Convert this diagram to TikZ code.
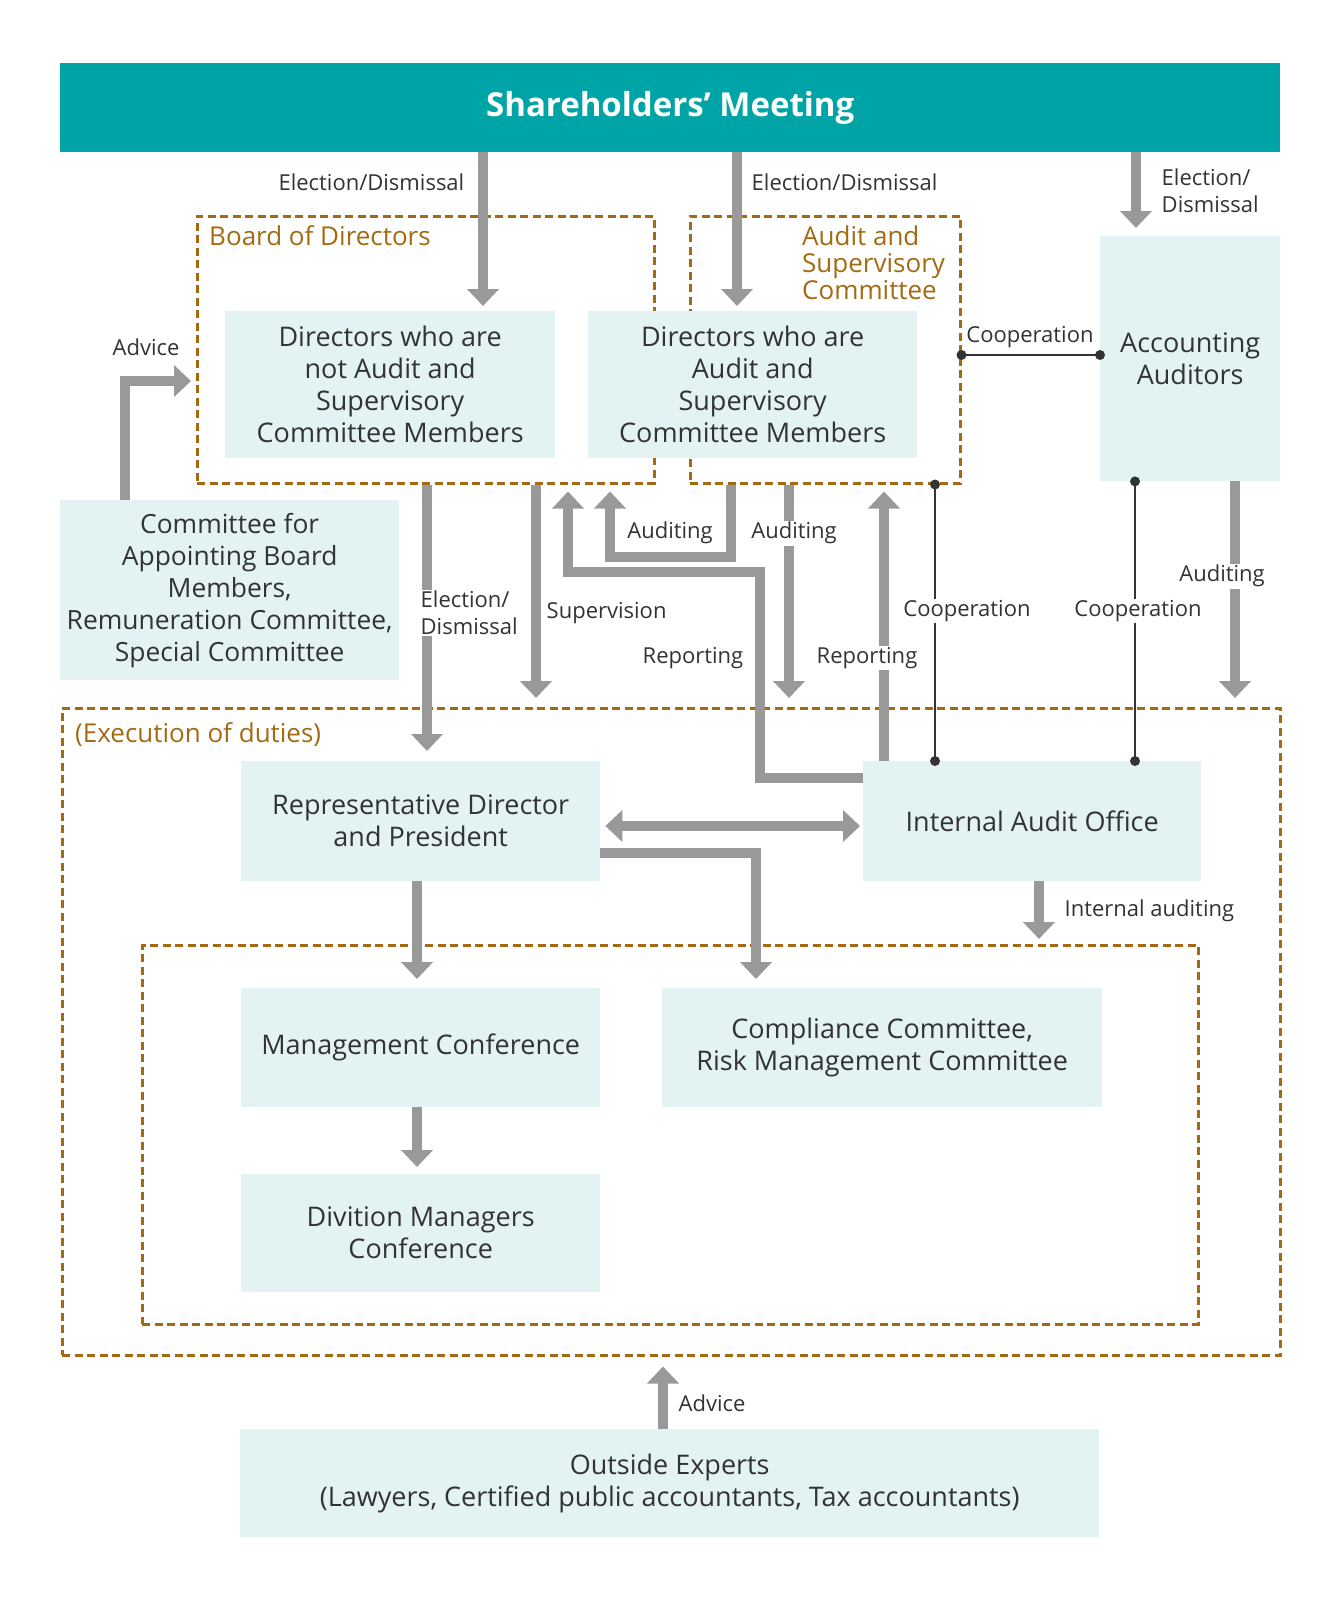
\documentclass[tikz,border=0pt]{standalone}
\usepackage{fontspec}
\setmainfont{Open Sans}
\usetikzlibrary{arrows.meta,positioning,calc}
\definecolor{shc}{HTML}{00A4A6}
\definecolor{boxc}{HTML}{E3F2F3}
\definecolor{arrc}{HTML}{999999}
\definecolor{brownc}{HTML}{A36A12}
\definecolor{inkc}{HTML}{333333}
\newcommand{\boxfont}{\fontsize{27}{32}\selectfont}
\newcommand{\labfont}{\fontsize{22}{27}\selectfont}
\newcommand{\ttlfont}{\fontsize{26}{27}\selectfont}

\begin{document}
\begin{tikzpicture}[
  x=1pt, y=-1pt,
  box/.style={fill=boxc, inner sep=0pt, align=center, text=inkc, font=\boxfont, anchor=north west},
  dbox/.style={draw=brownc, line width=2.5pt, dash pattern=on 8pt off 4.5pt, inner sep=0pt, anchor=north west},
  garr/.style={draw=arrc, line width=10pt, line join=miter, -{Triangle[length=17pt,width=31pt]}},
  garrb/.style={draw=arrc, line width=10pt, {Triangle[length=17pt,width=31pt]}-{Triangle[length=17pt,width=31pt]}},
  lab/.style={text=inkc, font=\labfont, inner sep=1.5pt, fill=white},
  ttl/.style={text=brownc, font=\ttlfont, inner sep=0pt, align=left},
  coop/.style={draw=inkc, line width=2.2pt},
  dot/.style={circle, fill=inkc, inner sep=0pt, minimum size=10pt},
]
\useasboundingbox (0,0) rectangle (1340,1600);
% dashed frames
\node[dbox, minimum width=457, minimum height=267] (bod) at (196,215) {};
\node[dbox, minimum width=270, minimum height=267] (asc) at (689,215) {};
\node[dbox, minimum width=1218, minimum height=647] (exe) at (61,707) {};
\node[dbox, minimum width=1056, minimum height=379] (inr) at (141,944) {};
% boxes
\node[box, fill=shc, text=white, font=\fontsize{33}{38}\selectfont\bfseries, minimum width=1220, minimum height=89] (sh) at (60,63) {Shareholders’ Meeting};
\node[box, minimum width=330, minimum height=147] (dnot) at (225,311) {Directors who are\\not Audit and\\Supervisory\\Committee Members};
\node[box, minimum width=329, minimum height=147] (daud) at (588,311) {Directors who are\\Audit and\\Supervisory\\Committee Members};
\node[box, minimum width=180, minimum height=245] (acc) at (1100,236) {Accounting\\Auditors};
\node[box, font=\fontsize{26.4}{32}\selectfont, minimum width=339, minimum height=180] (cab) at (60,500) {Committee for\\Appointing Board\\Members,\\Remuneration Committee,\\Special Committee};
\node[box, minimum width=359, minimum height=120] (rep) at (241,761) {Representative Director\\and President};
\node[box, minimum width=338, minimum height=120] (iao) at (863,761) {Internal Audit Office};
\node[box, minimum width=359, minimum height=119] (mgt) at (241,988) {Management Conference};
\node[box, minimum width=440, minimum height=119] (cmp) at (662,988) {Compliance Committee,\\Risk Management Committee};
\node[box, minimum width=359, minimum height=118] (div) at (241,1174) {Divition Managers\\Conference};
\node[box, minimum width=859, minimum height=108] (out) at (240,1429) {Outside Experts\\(Lawyers, Certified public accountants, Tax accountants)};
% frame titles
\node[ttl, anchor=west] (tbod) at (209,236) {Board of Directors};
\node[ttl, anchor=north west] (tasc) at (802,226) {Audit and\\Supervisory\\Committee};
\node[ttl, anchor=west] (texe) at (75,735) {(Execution of duties)};
% thick arrows
\draw[garr, shorten >=5pt] (483,0 |- sh.south) -- (483,0 |- dnot.north);
\draw[garr, shorten >=5pt] (737,0 |- sh.south) -- (737,0 |- daud.north);
\draw[garr, shorten >=8pt] (1136,0 |- sh.south) -- (1136,0 |- acc.north);
\draw[garr, shorten >=5pt] (125,0 |- cab.north) |- (bod.west |- 0,381);
\draw[garr, shorten >=10pt] (427,0 |- bod.south) -- (427,0 |- rep.north);
\draw[garr, shorten >=9pt] (536,0 |- bod.south) -- (536,0 |- exe.north);
\draw[garr, shorten >=7pt] (731,0 |- asc.south) |- (610,557) -- (610,0 |- bod.south);
\draw[garr, shorten >=9pt] (789,0 |- asc.south) -- (789,0 |- exe.north);
\draw[garr, shorten >=7pt] (iao.west |- 0,778) -| (760,572) -| (568,0 |- bod.south);
\draw[garr, shorten >=7pt] (884,0 |- iao.north) -- (884,0 |- asc.south);
\draw[garr, shorten >=9pt] (1235,0 |- acc.south) -- (1235,0 |- exe.north);
\draw[garrb, shorten <=5pt, shorten >=3pt] (rep.east |- 0,826) -- (iao.west |- 0,826);
\draw[garr, shorten >=9pt] (rep.east |- 0,853) -| (756,0 |- cmp.north);
\draw[garr, shorten >=9pt] (417,0 |- rep.south) -- (417,0 |- mgt.north);
\draw[garr, shorten >=7pt] (417,0 |- mgt.south) -- (417,0 |- div.north);
\draw[garr, shorten >=5pt] (1039,0 |- iao.south) -- (1039,0 |- inr.north);
\draw[garr, shorten >=10pt] (663,0 |- out.north) -- (663,0 |- exe.south);
% cooperation lines
\draw[coop] (asc.east |- 0,355) node[dot] {} -- (acc.west |- 0,355) node[dot] {};
\draw[coop] (935,0 |- asc.south) node[dot] {} -- (935,0 |- iao.north) node[dot] {};
\draw[coop] (1135,0 |- acc.south) node[dot] {} -- (1135,0 |- iao.north) node[dot] {};
% labels
\node[lab, anchor=east] (lel1) at (466,182) {Election/Dismissal};
\node[lab, anchor=west] (lel2) at (750,182) {Election/Dismissal};
\node[lab, anchor=west, align=left] (lel3) at (1160,191) {Election/\\Dismissal};
\node[lab] (lco1) at (1030,337) {Cooperation};
\node[lab] (ladv1) at (146,347) {Advice};
\node[lab, anchor=west, align=left] (lel4) at (419,613) {Election/\\Dismissal};
\node[lab, anchor=west] (lsup) at (545,613) {Supervision};
\node[lab] (laud1) at (670,533) {Auditing};
\node[lab] (laud2) at (794,533) {Auditing};
\node[lab] (lrep1) at (693,658) {Reporting};
\node[lab] (lrep2) at (867,658) {Reporting};
\node[lab] (lco2) at (967,611) {Cooperation};
\node[lab] (lco3) at (1138,611) {Cooperation};
\node[lab] (laud3) at (1222,576) {Auditing};
\node[lab, anchor=west] (liau) at (1063,911) {Internal auditing};
\node[lab, anchor=west] (ladv2) at (677,1403) {Advice};
\end{tikzpicture}
\end{document}
